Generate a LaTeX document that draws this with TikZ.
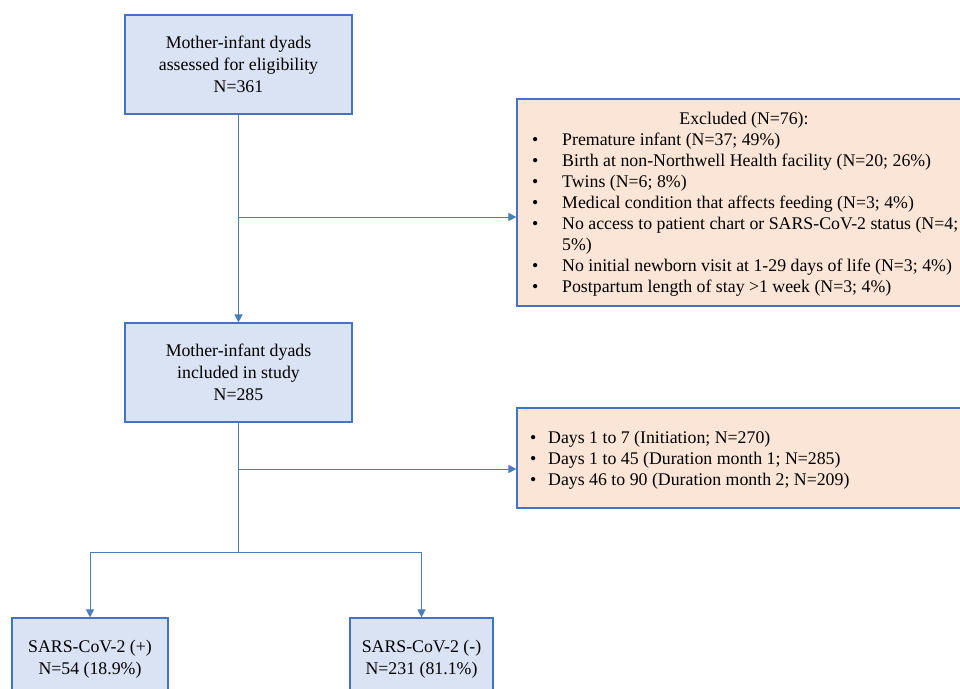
\documentclass[tikz,border=0pt]{standalone}
\usepackage{fontspec}
\setmainfont{Liberation Serif}
\usetikzlibrary{arrows.meta}
\definecolor{boxblue}{HTML}{DAE3F3}
\definecolor{boxline}{HTML}{4472C4}
\definecolor{peach}{HTML}{FBE5D6}
\definecolor{connc}{HTML}{4A7EBB}
\begin{document}
\begin{tikzpicture}[x=1pt,y=-1pt,
  txt/.style={font=\fontsize{17.8}{22}\selectfont},
  listtxt/.style={font=\fontsize{17.8}{21}\selectfont},
  bluebox/.style={draw=boxline, fill=boxblue, line width=1.2pt, inner sep=0pt, align=center, txt},
  peachbox/.style={draw=boxline, fill=peach, line width=1.2pt, inner sep=0pt},
  conn/.style={draw=connc, line width=1pt},
  arr/.style={conn, -{Triangle[length=8pt,width=8pt]}}]
\useasboundingbox (0,0) rectangle (960,688);
\clip (0,0) rectangle (960,688);
% boxes
\node[bluebox, minimum width=227pt, minimum height=99pt] (box1) at (238.5,64.5)
  {Mother-infant dyads\\assessed for eligibility\\N=361};
\node[bluebox, minimum width=227pt, minimum height=99pt] (box2) at (238.5,372.5)
  {Mother-infant dyads\\included in study\\N=285};
\node[peachbox, minimum width=448pt, minimum height=207pt] (excl) at (741,202.5) {};
\node[peachbox, minimum width=448pt, minimum height=100pt] (days) at (741,458) {};
\node[bluebox, minimum width=156pt, minimum height=82pt] (pos) at (90,659)
  {SARS-CoV-2 (+)\\N=54 (18.9\%)};
\node[bluebox, minimum width=143pt, minimum height=82pt] (neg) at (421.5,659)
  {SARS-CoV-2 (-)\\N=231 (81.1\%)};
% texts in peach boxes
\node[listtxt, anchor=base, inner sep=0pt] (exhead) at (744,124) {Excluded (N=76):};
\node[listtxt, anchor=base west, inner sep=0pt] (exlist) at (532,145)
  {\begin{tabular}[t]{@{}p{30pt}@{}l@{}}
   •&Premature infant (N=37; 49\%)\\
   •&Birth at non-Northwell Health facility (N=20; 26\%)\\
   •&Twins (N=6; 8\%)\\
   •&Medical condition that affects feeding (N=3; 4\%)\\
   •&No access to patient chart or SARS-CoV-2 status (N=4;\\
    &5\%)\\
   •&No initial newborn visit at 1-29 days of life (N=3; 4\%)\\
   •&Postpartum length of stay >1 week (N=3; 4\%)
  \end{tabular}};
\node[listtxt, anchor=base west, inner sep=0pt] (dayslist) at (530,443)
  {\begin{tabular}[t]{@{}p{18pt}@{}l@{}}
   •&Days 1 to 7 (Initiation; N=270)\\
   •&Days 1 to 45 (Duration month 1; N=285)\\
   •&Days 46 to 90 (Duration month 2; N=209)
  \end{tabular}};
% connectors
\coordinate (j1) at (238.5,217);
\coordinate (j2) at (238.5,469);
\coordinate (j3) at (238.5,552);
\draw[arr] (box1.south) -- (box2.north);
\draw[arr] (j1) -- (excl.west |- j1);
\draw[conn] (box2.south) -- (j3);
\draw[arr] (j2) -- (days.west |- j2);
\draw[arr] (j3) -| (pos.north);
\draw[arr] (j3) -| (neg.north);
\end{tikzpicture}
\end{document}
